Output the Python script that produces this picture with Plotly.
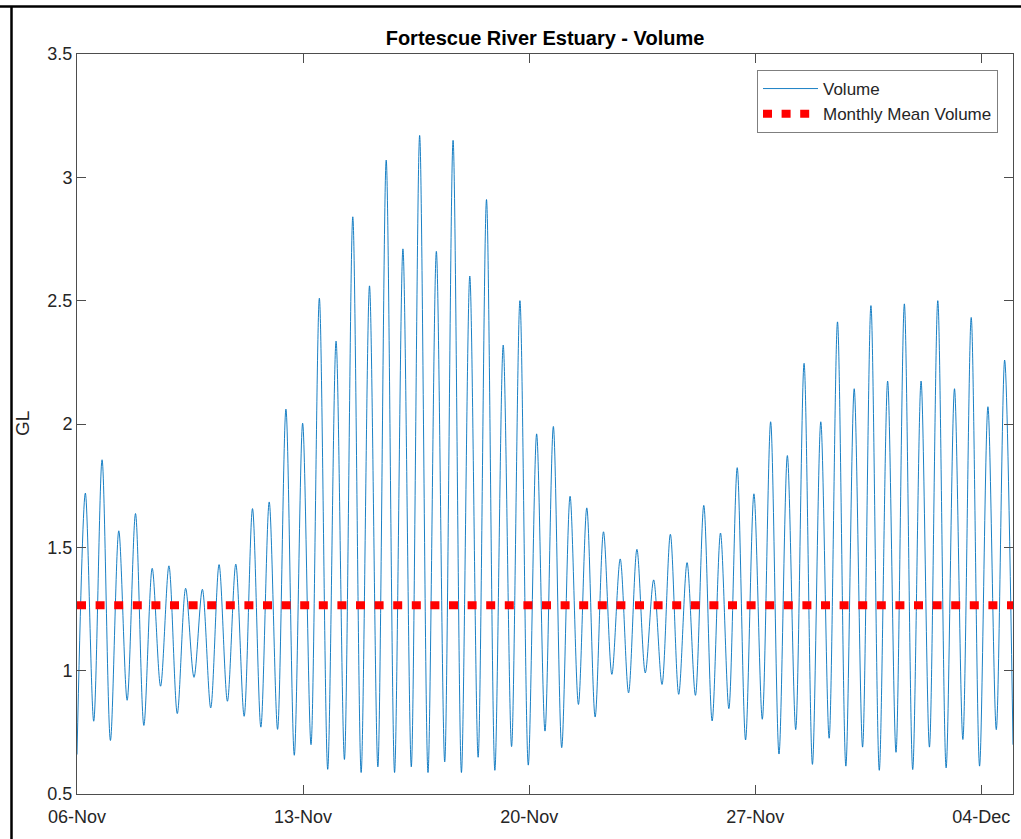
import pandas as pd
import plotly.graph_objects as go

# High-water and low-water estuary volumes (GL), one tidal half-cycle apart
low_water = [
    0.66, 0.795, 0.717, 0.88, 0.778, 0.937, 0.826, 0.973, 0.849, 0.876, 0.815,
    0.771, 0.762, 0.657, 0.70, 0.60, 0.64, 0.587, 0.61, 0.587, 0.61,
    0.587, 0.63, 0.587, 0.649, 0.596, 0.692, 0.617, 0.755, 0.688, 0.863,
    0.812, 0.985, 0.91, 0.991, 0.944, 0.904, 0.90, 0.796, 0.846, 0.719,
    0.803, 0.662, 0.761, 0.62, 0.726, 0.613, 0.69, 0.596, 0.669, 0.599,
    0.69, 0.606, 0.721, 0.613, 0.761, 0.70,
]
high_water = [
    1.72, 1.855, 1.567, 1.637, 1.415, 1.425, 1.334, 1.33, 1.43, 1.432,
    1.657, 1.684, 2.06, 2.003, 2.51, 2.336, 2.84, 2.56, 3.07, 2.71,
    3.17, 2.70, 3.15, 2.60, 2.91, 2.32, 2.50, 1.96, 1.99, 1.707,
    1.66, 1.563, 1.453, 1.492, 1.368, 1.553, 1.438, 1.67, 1.558, 1.823,
    1.717, 2.009, 1.872, 2.246, 2.009, 2.414, 2.143, 2.48, 2.174, 2.487,
    2.174, 2.50, 2.143, 2.432, 2.07, 2.259,
]
monthly_mean_volume = 1.265

start_time = "2018-11-06 00:00"
half_tide = "22356s"  # semi-diurnal half period (6 h 12.6 min)

tick_dates = ["2018-11-06", "2018-11-13", "2018-11-20", "2018-11-27", "2018-12-04"]
tick_labels = ["06-Nov", "13-Nov", "20-Nov", "27-Nov", "04-Dec"]
y_ticks = [0.5, 1, 1.5, 2, 2.5, 3, 3.5]

# Interleave low and high water into one alternating series
volume = []
for i, lo in enumerate(low_water):
    volume.append(lo)
    if i < len(high_water):
        volume.append(high_water[i])
times = pd.date_range(start_time, periods=len(volume), freq=half_tide)

FONT = "Liberation Sans, Arial, sans-serif"
AX = "#4d4d4d"
TXT = "#262626"

fig = go.Figure()
fig.add_trace(go.Scatter(
    x=times, y=volume, mode="lines", name="Volume",
    line=dict(color="#0072BD", width=0.9, shape="spline", smoothing=0.9),
))
fig.add_trace(go.Scatter(
    x=[times[0], times[-1]], y=[monthly_mean_volume] * 2, mode="lines",
    name="Monthly Mean Volume",
    line=dict(color="#ff0000", width=8, dash="9px,9.6px"),
))

W, H = 1021, 839
ml, mr, mt, mb = 77, 8, 54, 45
pw, ph = W - ml - mr, H - mt - mb

def px_x(p):
    return (p - ml) / pw

def px_y(p):
    return (H - mb - p) / ph

fig.update_layout(
    width=W, height=H,
    margin=dict(l=ml, r=mr, t=mt, b=mb),
    paper_bgcolor="white", plot_bgcolor="white",
    font=dict(family=FONT, size=18, color=TXT),
    title=dict(text="<b>Fortescue River Estuary - Volume</b>",
               x=px_x(545), xanchor="center", xref="paper",
               y=1 - 38 / H, yanchor="middle",
               font=dict(size=20, color="black")),
    showlegend=True,
    legend=dict(x=px_x(998), y=px_y(70), xanchor="right", yanchor="top",
                bgcolor="white", bordercolor="#7f7f7f", borderwidth=1,
                font=dict(size=17, color=TXT), itemwidth=55,
                tracegroupgap=0),
    xaxis=dict(range=[times[0], times[-1]], tickvals=tick_dates,
               ticktext=tick_labels, showgrid=False, zeroline=False,
               showline=True, linecolor=AX, linewidth=1, mirror="ticks",
               ticks="inside", ticklen=9, tickcolor=AX,
               ticklabelstandoff=6,
               tickfont=dict(size=18, color=TXT)),
    yaxis=dict(range=[0.5, 3.5], tickvals=y_ticks, showgrid=False,
               zeroline=False, showline=True, linecolor=AX, linewidth=1,
               mirror="ticks", ticks="inside", ticklen=9, tickcolor=AX,
               tickfont=dict(size=18, color=TXT)),
    annotations=[dict(text="GL", textangle=-90, x=px_x(22), y=0.5,
                      xref="paper", yref="paper", xanchor="center",
                      yanchor="middle", showarrow=False,
                      font=dict(size=19, color=TXT))],
    shapes=[
        dict(type="line", xref="paper", yref="paper",
             x0=px_x(0), x1=px_x(W), y0=px_y(6.5), y1=px_y(6.5),
             line=dict(color="black", width=2.5)),
        dict(type="line", xref="paper", yref="paper",
             x0=px_x(11.5), x1=px_x(11.5), y0=px_y(6.5), y1=px_y(H),
             line=dict(color="black", width=2.5)),
    ],
)

fig.write_html("out.html")
